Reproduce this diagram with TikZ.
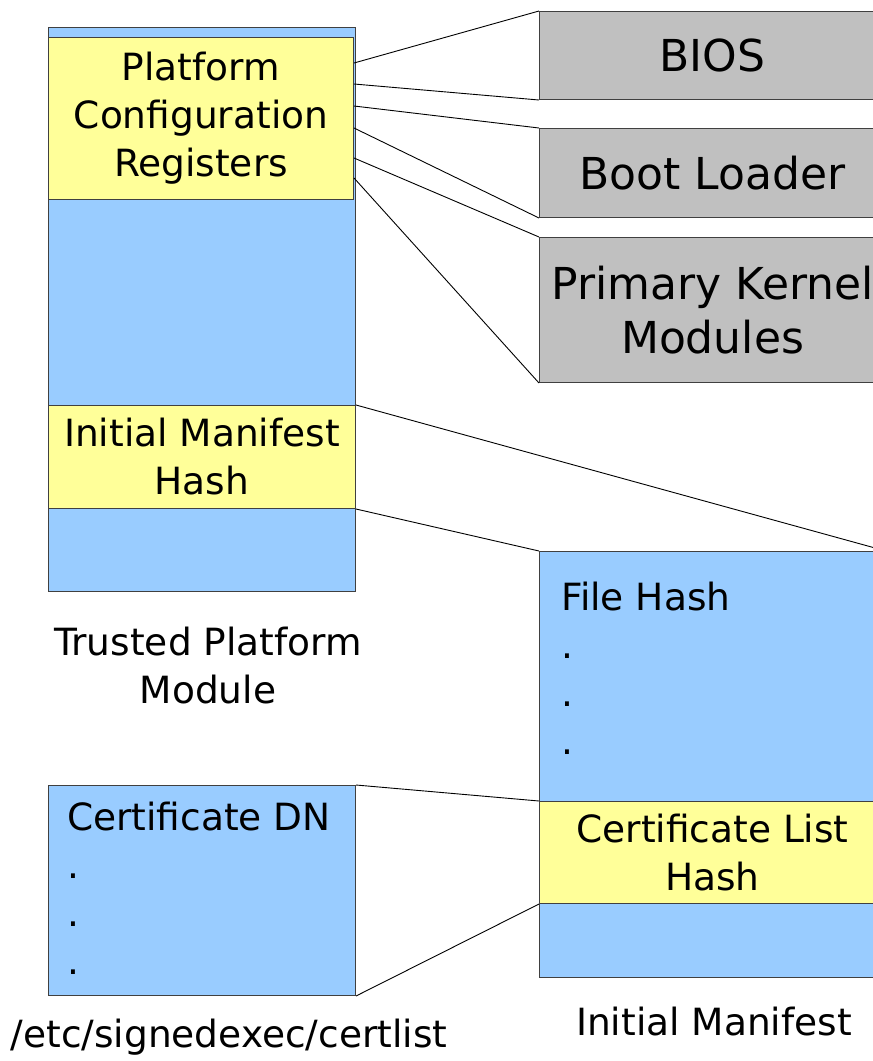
\documentclass[tikz,border=0pt]{standalone}
\usepackage{fontspec}
\setmainfont{DejaVu Sans}
\usepackage{tikz}
\definecolor{regblue}{HTML}{99CCFF}
\definecolor{hashyellow}{HTML}{FFFF99}
\definecolor{stagegray}{HTML}{C0C0C0}

\begin{document}
\begin{tikzpicture}[x=1pt,y=-1pt,
    box/.style={draw=black!75,line width=1pt,inner sep=0pt,anchor=north west,align=center,font=\fontsize{37.5}{48}\selectfont},
    bluebox/.style={box,fill=regblue},
    yellowbox/.style={box,fill=hashyellow},
    graybox/.style={box,fill=stagegray,font=\fontsize{44}{54}\selectfont},
    caption/.style={inner sep=0pt,align=center,font=\fontsize{37.5}{48}\selectfont},
    link/.style={line width=0.9pt}]
  \useasboundingbox (0,0) rectangle (873,1061);
  % TPM with its registers
  \node[bluebox,minimum width=307pt,minimum height=564pt] (tpm) at (48,27) {};
  \node[yellowbox,minimum width=305pt,minimum height=162pt] (pcr) at (48,37) {Platform\\Configuration\\Registers};
  \node[yellowbox,minimum width=307pt,minimum height=103pt] (imh) at (48,405) {Initial Manifest\\Hash};
  \node[caption] (tpmlabel) at (208,666) {Trusted Platform\\Module};
  % measured boot stages
  \node[graybox,minimum width=346pt,minimum height=88pt] (bios) at (539,11) {BIOS};
  \node[graybox,minimum width=346pt,minimum height=89pt] (boot) at (539,128) {Boot Loader};
  \node[graybox,minimum width=346pt,minimum height=145pt] (pkm) at (539,237) {Primary Kernel\\Modules};
  % the manifest
  \node[bluebox,minimum width=346pt,minimum height=426pt] (im) at (539,551) {};
  \node[yellowbox,minimum width=346pt,minimum height=102pt] (clh) at (539,801) {Certificate List\\Hash};
  \node[caption,anchor=base west,align=left] (filehash) at (561,754) {File Hash\\.\\.\\.};
  \node[caption,anchor=base] (imlabel) at (714,1035) {Initial Manifest};
  % certificate list
  \node[bluebox,minimum width=307pt,minimum height=210pt] (cert) at (48,785) {};
  \node[caption,anchor=base west,align=left] (certdn) at (67,974) {Certificate DN\\.\\.\\.};
  \node[caption,anchor=base] (certlabel) at (229,1047) {/etc/signedexec/certlist};
  % connectors
  \draw[link] ([yshift=-26pt]pcr.north east) -- (bios.north west);
  \draw[link] ([yshift=-47pt]pcr.north east) -- (bios.south west);
  \draw[link] ([yshift=-69pt]pcr.north east) -- (boot.north west);
  \draw[link] ([yshift=-91pt]pcr.north east) -- (boot.south west);
  \draw[link] ([yshift=-121pt]pcr.north east) -- (pkm.north west);
  \draw[link] ([yshift=-141pt]pcr.north east) -- (pkm.south west);
  \draw[link] (imh.north east) -- (im.north east);
  \draw[link] (imh.south east) -- (im.north west);
  \draw[link] (cert.north east) -- (clh.north west);
  \draw[link] (cert.south east) -- (clh.south west);
\end{tikzpicture}
\end{document}
